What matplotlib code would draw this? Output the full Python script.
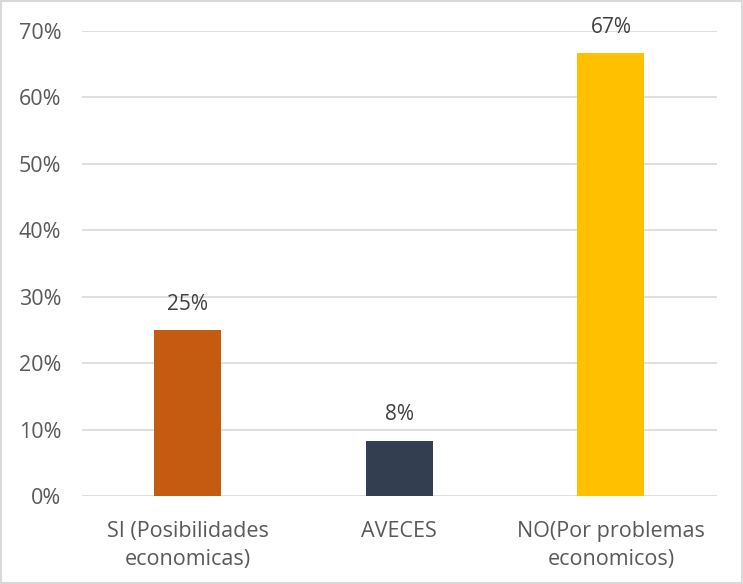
import matplotlib.pyplot as plt
from matplotlib.patches import Rectangle
from matplotlib.ticker import FuncFormatter

# --- data ---
categories = ["SI (Posibilidades\neconomicas)", "AVECES", "NO(Por problemas\neconomicos)"]
values = [25.0, 8.33, 66.67]
labels = ["25%", "8%", "67%"]
colors = ["#C55A11", "#333F50", "#FFC000"]
yticks = [0, 10, 20, 30, 40, 50, 60, 70]

plt.rcParams['font.family'] = ['Open Sans', 'DejaVu Sans']
text_gray = '#595959'

fig = plt.figure(figsize=(7.43, 5.84), dpi=100)
ax = fig.add_axes([0.1104, 0.1507, 0.8542, 0.7962])

x = list(range(len(categories)))
bars = ax.bar(x, values, width=0.317, color=colors, zorder=3)

for b, lab in zip(bars, labels):
    ax.annotate(lab, (b.get_x() + b.get_width() / 2, b.get_height()),
                xytext=(0, 11), textcoords='offset points',
                ha='center', va='bottom', fontsize=15, color='#404040')

ax.set_xlim(-0.5, 2.5)
ax.set_ylim(0, 70)
ax.set_yticks(yticks)
ax.yaxis.set_major_formatter(FuncFormatter(lambda v, p: f"{v:.0f}%"))
ax.set_xticks(x)
ax.set_xticklabels(categories, linespacing=1.45)
ax.tick_params(axis='y', length=0, pad=15, labelsize=15.5, labelcolor=text_gray)
ax.tick_params(axis='x', length=0, pad=18, labelsize=15.5, labelcolor=text_gray)
ax.grid(axis='y', color='#D9D9D9', linewidth=1.2, zorder=0)
for s in ax.spines.values():
    s.set_visible(False)

# light border around the whole chart
fig.patches.append(Rectangle((0.002, 0.002), 0.996, 0.996, transform=fig.transFigure,
                             fill=False, edgecolor='#D9D9D9', linewidth=1.5))

fig.savefig("out.png", dpi=100)
